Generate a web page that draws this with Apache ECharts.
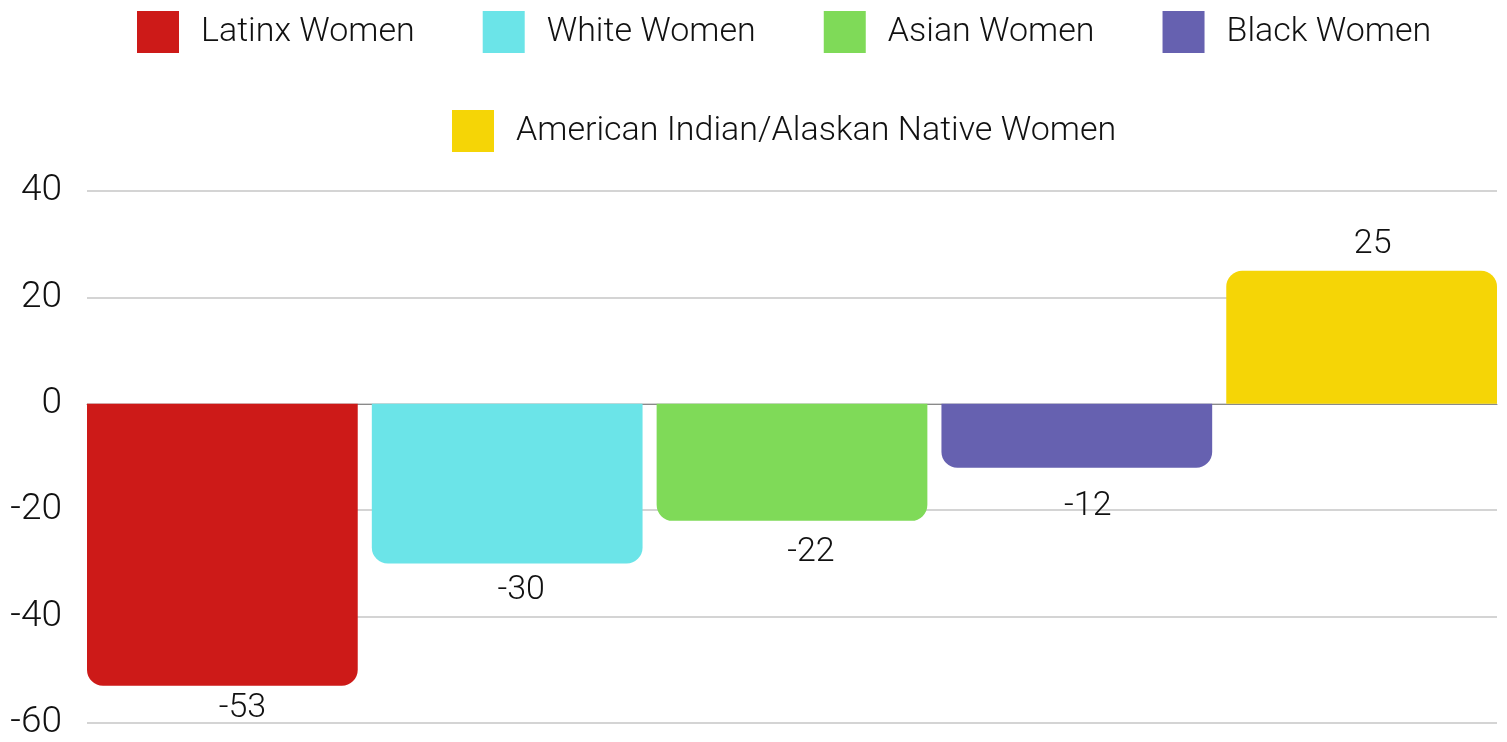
<!DOCTYPE html>
<html>
<head>
<meta charset="utf-8">
<script src="https://cdn.jsdelivr.net/npm/echarts@6/dist/echarts.min.js"></script>
<style>html,body{margin:0;padding:0;background:#fff}#c{width:1507px;height:742px}</style>
</head>
<body>
<div id="c"></div>
<script>
const groups = ['Latinx Women', 'White Women', 'Asian Women', 'Black Women', 'American Indian/Alaskan Native Women'];
const values = [-53, -30, -22, -12, 25];
const yTicks = { min: -60, max: 40, interval: 20 };

const palette = ['#CD1A18', '#6BE4E8', '#7FDA58', '#6661B0', '#F5D506'];
const labelDistance = [6, 10, 15, 22, 9];
const labelShift = [20, 14, 19, 11, 11];
const FONT = 'Roboto';

const chart = echarts.init(document.getElementById('c'), null, { renderer: 'canvas' });
const series = groups.map((name, i) => {
  const v = values[i];
  const neg = v < 0;
  return {
    name: name,
    type: 'bar',
    data: [v],
    barGap: '5.2%',
    barCategoryGap: '0%',
    itemStyle: {
      color: palette[i],
      borderRadius: neg ? [0, 0, 16, 16] : [16, 16, 0, 0]
    },
    label: {
      show: true,
      position: neg ? 'bottom' : 'top',
      distance: labelDistance[i],
      offset: [labelShift[i], 0],
      fontFamily: FONT,
      fontWeight: 300,
      fontSize: 34,
      color: '#111'
    }
  };
});

const legendText = {
  fontFamily: FONT, fontWeight: 300, fontSize: 34, color: '#111',
  padding: [0, 0, 0, 17]
};

chart.setOption({
  animation: false,
  legend: [
    {
      data: groups.slice(0, 4),
      left: 137, top: 11, padding: 0,
      itemWidth: 42, itemHeight: 42, itemGap: 68,
      icon: 'rect',
      textStyle: legendText
    },
    {
      data: groups.slice(4),
      left: 452, top: 110, padding: 0,
      itemWidth: 42, itemHeight: 42,
      icon: 'rect',
      textStyle: legendText
    }
  ],
  grid: { left: 87, right: 10, top: 191, bottom: 19, containLabel: false },
  xAxis: {
    type: 'category',
    data: [''],
    axisTick: { show: false },
    axisLabel: { show: false },
    axisLine: { show: true, onZero: true, lineStyle: { color: '#8a8a8a', width: 1 } }
  },
  yAxis: {
    type: 'value',
    min: yTicks.min, max: yTicks.max, interval: yTicks.interval,
    axisLine: { show: false },
    axisTick: { show: false },
    axisLabel: { fontFamily: FONT, fontWeight: 300, fontSize: 37, color: '#111', margin: 25 },
    splitLine: { lineStyle: { color: '#c6c6c6', width: 1.5 } }
  },
  series: series
});
</script>
</body>
</html>
